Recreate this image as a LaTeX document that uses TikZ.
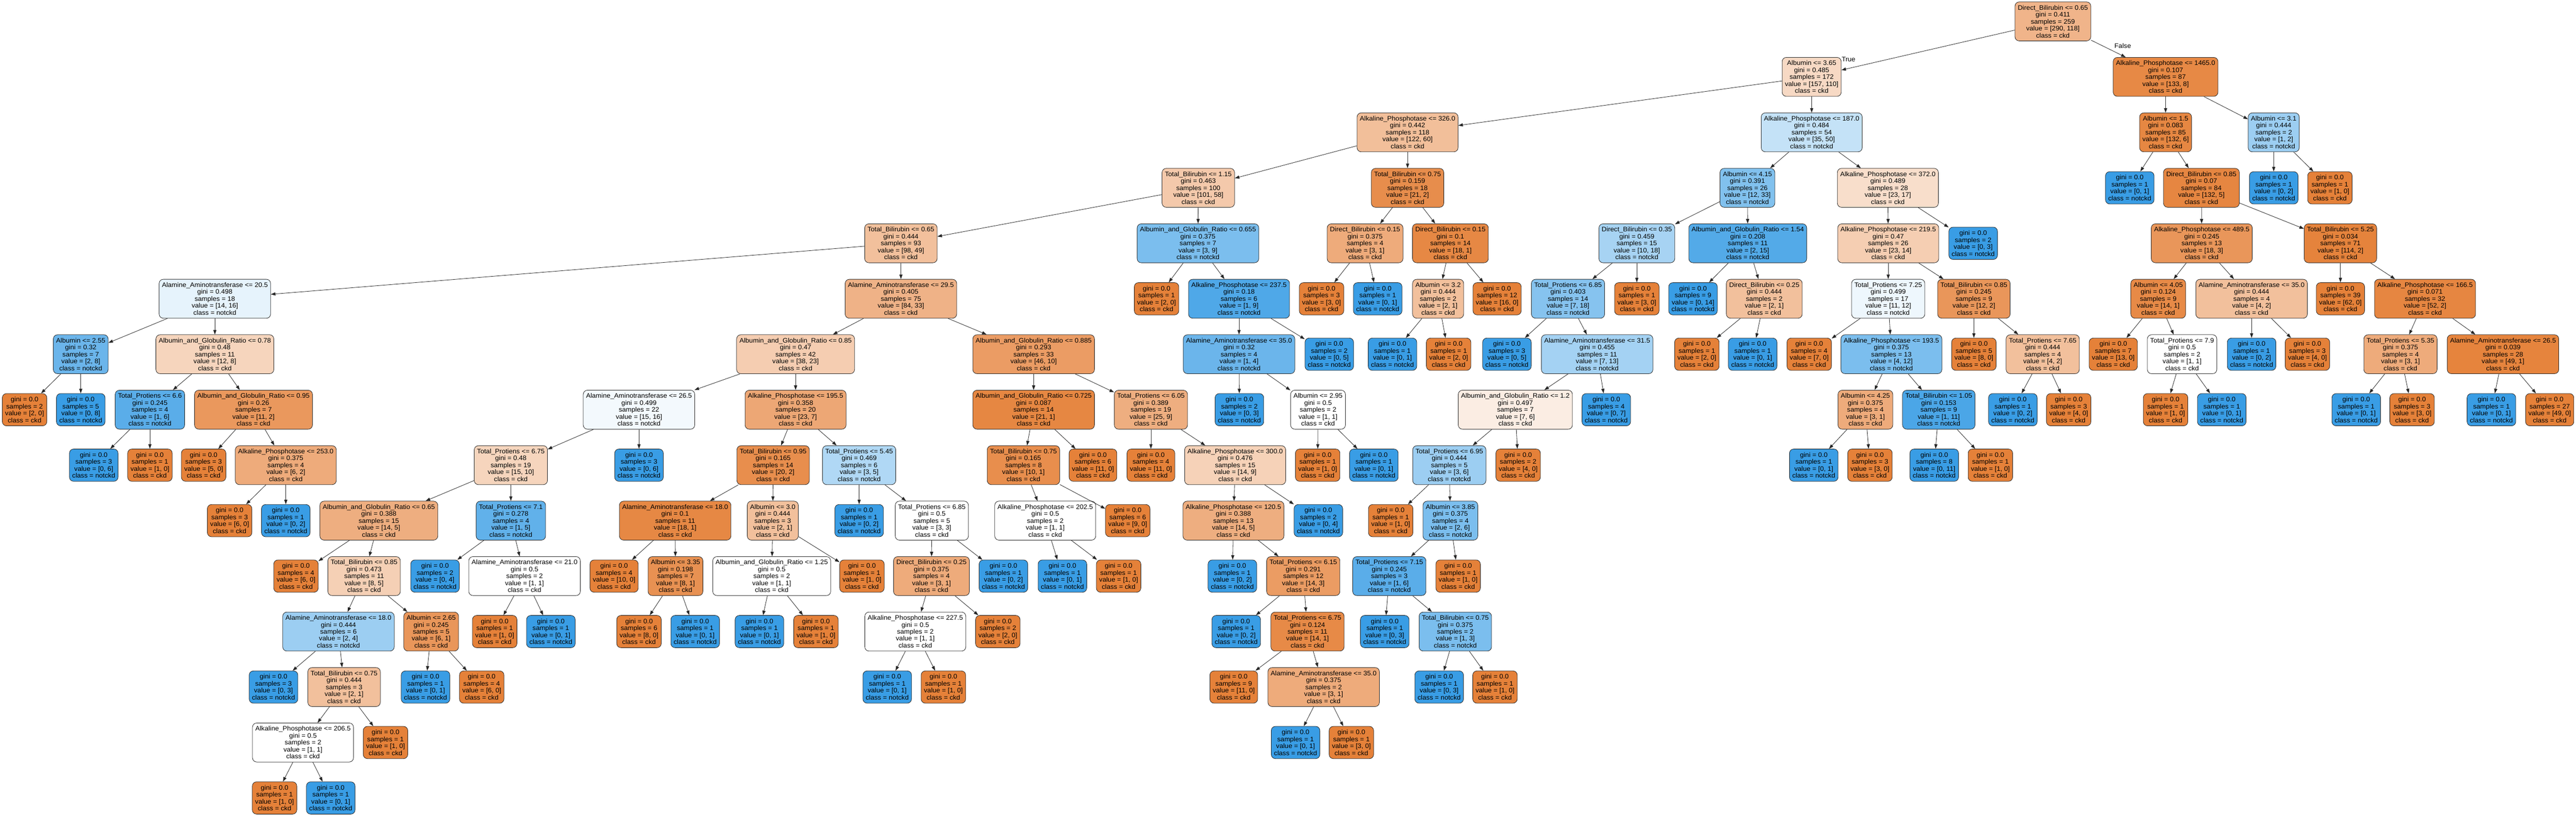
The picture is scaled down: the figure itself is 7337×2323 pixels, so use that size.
\documentclass[tikz,border=0pt]{standalone}
\usepackage{fontspec}
\setmainfont{Liberation Sans}[FakeStretch=1.04]
\usetikzlibrary{arrows.meta}
\definecolor{cckd}{RGB}{229,129,57}
\definecolor{cnot}{RGB}{57,157,229}
\tikzset{
  cls/.code 2 args={%
    \pgfmathsetmacro\va{#1}\pgfmathsetmacro\vb{#2}%
    \ifdim\va pt<\vb pt
      \pgfmathsetmacro\al{(\vb-\va)/\vb*100}\def\cc{cnot}%
    \else
      \pgfmathsetmacro\al{(\va-\vb)/\va*100}\def\cc{cckd}%
    \fi
    \edef\tmp{\noexpand\pgfkeysalso{fill=\cc!\al!white}}\tmp},
  nd/.style={draw=black!85, line width=1.2pt, rounded corners=12pt, align=center,
    inner xsep=8pt, inner ysep=0pt, font=\fontsize{18.5pt}{19.8pt}\selectfont},
  inode/.style={nd, minimum height=111pt},
  lnode/.style={nd, minimum height=92pt},
  edge/.style={draw=black!85, line width=1.2pt, -{Triangle[length=13pt,width=9pt]}},
  lbl/.style={font=\fontsize{18.5pt}{19.8pt}\selectfont, inner sep=0pt}
}
% name, x, level, split, gini, samples, a, b, class
\newcommand\IN[9]{\node[inode,cls={#7}{#8}] (#1) at (#2,{61+158*#3}) {#4\\gini = #5\\samples = #6\\value = [#7, #8]\\class = #9};}
% name, x, level, samples, a, b, class
\newcommand\LF[7]{\node[lnode,cls={#5}{#6}] (#1) at (#2,{61+158*#3}) {gini = 0.0\\samples = #4\\value = [#5, #6]\\class = #7};}
\begin{document}
\begin{tikzpicture}[x=1pt,y=-1pt]
\useasboundingbox[fill=white] (0,0) rectangle (7337,2323);
% level 0
\IN{r}{5847}{0}{Direct\_Bilirubin <= 0.65}{0.411}{259}{290}{118}{ckd}
% level 1
\IN{a}{5160}{1}{Albumin <= 3.65}{0.485}{172}{157}{110}{ckd}
\IN{b}{6168}{1}{Alkaline\_Phosphotase <= 1465.0}{0.107}{87}{133}{8}{ckd}
% level 2
\IN{aa}{4009}{2}{Alkaline\_Phosphotase <= 326.0}{0.442}{118}{122}{60}{ckd}
\IN{ab}{5160}{2}{Alkaline\_Phosphotase <= 187.0}{0.484}{54}{35}{50}{notckd}
\IN{ba}{6168}{2}{Albumin <= 1.5}{0.083}{85}{132}{6}{ckd}
\IN{bb}{6476}{2}{Albumin <= 3.1}{0.444}{2}{1}{2}{notckd}
% level 3
\IN{aaa}{3413}{3}{Total\_Bilirubin <= 1.15}{0.463}{100}{101}{58}{ckd}
\IN{aab}{4009}{3}{Total\_Bilirubin <= 0.75}{0.159}{18}{21}{2}{ckd}
\IN{aba}{4977}{3}{Albumin <= 4.15}{0.391}{26}{12}{33}{notckd}
\IN{abb}{5377}{3}{Alkaline\_Phosphotase <= 372.0}{0.489}{28}{23}{17}{ckd}
\LF{baa}{6066}{3}{1}{0}{1}{notckd}
\IN{bab}{6270}{3}{Direct\_Bilirubin <= 0.85}{0.07}{84}{132}{5}{ckd}
\LF{bba}{6476}{3}{1}{0}{2}{notckd}
\LF{bbb}{6636}{3}{1}{1}{0}{ckd}
% level 4
\IN{aaaa}{2566}{4}{Total\_Bilirubin <= 0.65}{0.444}{93}{98}{49}{ckd}
\IN{aaab}{3412}{4}{Albumin\_and\_Globulin\_Ratio <= 0.655}{0.375}{7}{3}{9}{notckd}
\IN{aaba}{3888}{4}{Direct\_Bilirubin <= 0.15}{0.375}{4}{3}{1}{ckd}
\IN{aabb}{4131}{4}{Direct\_Bilirubin <= 0.15}{0.1}{14}{18}{1}{ckd}
\IN{abaa}{4662}{4}{Direct\_Bilirubin <= 0.35}{0.459}{15}{10}{18}{notckd}
\IN{abab}{4978}{4}{Albumin\_and\_Globulin\_Ratio <= 1.54}{0.208}{11}{2}{15}{notckd}
\IN{abba}{5378}{4}{Alkaline\_Phosphotase <= 219.5}{0.47}{26}{23}{14}{ckd}
\LF{abbb}{5620}{4}{2}{0}{3}{notckd}
\IN{baba}{6271}{4}{Alkaline\_Phosphotase <= 489.5}{0.245}{13}{18}{3}{ckd}
\IN{babb}{6666}{4}{Total\_Bilirubin <= 5.25}{0.034}{71}{114}{2}{ckd}
% level 5
\IN{n5a}{612}{5}{Alamine\_Aminotransferase <= 20.5}{0.498}{18}{14}{16}{notckd}
\IN{n5b}{2566}{5}{Alamine\_Aminotransferase <= 29.5}{0.405}{75}{84}{33}{ckd}
\LF{n5c}{3294}{5}{1}{2}{0}{ckd}
\IN{n5d}{3529}{5}{Alkaline\_Phosphotase <= 237.5}{0.18}{6}{1}{9}{notckd}
\LF{n5e}{3764}{5}{3}{3}{0}{ckd}
\LF{n5f}{3924}{5}{1}{0}{1}{notckd}
\IN{n5g}{4096}{5}{Albumin <= 3.2}{0.444}{2}{2}{1}{ckd}
\LF{n5h}{4264}{5}{12}{16}{0}{ckd}
\IN{n5i}{4466}{5}{Total\_Protiens <= 6.85}{0.403}{14}{7}{18}{notckd}
\LF{n5j}{4662}{5}{1}{3}{0}{ckd}
\LF{n5k}{4822}{5}{9}{0}{14}{notckd}
\IN{n5l}{5025}{5}{Direct\_Bilirubin <= 0.25}{0.444}{2}{2}{1}{ckd}
\IN{n5m}{5378}{5}{Total\_Protiens <= 7.25}{0.499}{17}{11}{12}{notckd}
\IN{n5n}{5622}{5}{Total\_Bilirubin <= 0.85}{0.245}{9}{12}{2}{ckd}
\IN{n5o}{6147}{5}{Albumin <= 4.05}{0.124}{9}{14}{1}{ckd}
\IN{n5p}{6413}{5}{Alamine\_Aminotransferase <= 35.0}{0.444}{4}{4}{2}{ckd}
\LF{n5q}{6666}{5}{39}{62}{0}{ckd}
\IN{n5r}{6907}{5}{Alkaline\_Phosphotase <= 166.5}{0.071}{32}{52}{2}{ckd}
% level 6
\IN{n6a}{230}{6}{Albumin <= 2.55}{0.32}{7}{2}{8}{notckd}
\IN{n6b}{612}{6}{Albumin\_and\_Globulin\_Ratio <= 0.78}{0.48}{11}{12}{8}{ckd}
\IN{n6c}{2266}{6}{Albumin\_and\_Globulin\_Ratio <= 0.85}{0.47}{42}{38}{23}{ckd}
\IN{n6d}{2944}{6}{Albumin\_and\_Globulin\_Ratio <= 0.885}{0.293}{33}{46}{10}{ckd}
\IN{n6e}{3529}{6}{Alamine\_Aminotransferase <= 35.0}{0.32}{4}{1}{4}{notckd}
\LF{n6f}{3786}{6}{2}{0}{5}{notckd}
\LF{n6g}{3966}{6}{1}{0}{1}{notckd}
\LF{n6h}{4126}{6}{1}{2}{0}{ckd}
\LF{n6i}{4292}{6}{3}{0}{5}{notckd}
\IN{n6j}{4549}{6}{Alamine\_Aminotransferase <= 31.5}{0.455}{11}{7}{13}{notckd}
\LF{n6k}{4833}{6}{1}{2}{0}{ckd}
\LF{n6l}{4992}{6}{1}{0}{1}{notckd}
\LF{n6m}{5153}{6}{4}{7}{0}{ckd}
\IN{n6n}{5387}{6}{Alkaline\_Phosphotase <= 193.5}{0.375}{13}{4}{12}{notckd}
\LF{n6o}{5622}{6}{5}{8}{0}{ckd}
\IN{n6p}{5818}{6}{Total\_Protiens <= 7.65}{0.444}{4}{4}{2}{ckd}
\LF{n6q}{6019}{6}{7}{13}{0}{ckd}
\IN{n6r}{6215}{6}{Total\_Protiens <= 7.9}{0.5}{2}{1}{1}{ckd}
\LF{n6s}{6413}{6}{1}{0}{2}{notckd}
\LF{n6t}{6572}{6}{3}{4}{0}{ckd}
\IN{n6u}{6837}{6}{Total\_Protiens <= 5.35}{0.375}{4}{3}{1}{ckd}
\IN{n6v}{7129}{6}{Alamine\_Aminotransferase <= 26.5}{0.039}{28}{49}{1}{ckd}
% level 7
\LF{n7a}{70}{7}{2}{2}{0}{ckd}
\LF{n7b}{230}{7}{5}{0}{8}{notckd}
\IN{n7c}{427}{7}{Total\_Protiens <= 6.6}{0.245}{4}{1}{6}{notckd}
\IN{n7d}{722}{7}{Albumin\_and\_Globulin\_Ratio <= 0.95}{0.26}{7}{11}{2}{ckd}
\IN{n7e}{1820}{7}{Alamine\_Aminotransferase <= 26.5}{0.499}{22}{15}{16}{notckd}
\IN{n7f}{2266}{7}{Alkaline\_Phosphotase <= 195.5}{0.358}{20}{23}{7}{ckd}
\IN{n7g}{2944}{7}{Albumin\_and\_Globulin\_Ratio <= 0.725}{0.087}{14}{21}{1}{ckd}
\IN{n7h}{3278}{7}{Total\_Protiens <= 6.05}{0.389}{19}{25}{9}{ckd}
\LF{n7i}{3530}{7}{2}{0}{3}{notckd}
\IN{n7j}{3754}{7}{Albumin <= 2.95}{0.5}{2}{1}{1}{ckd}
\IN{n7k}{4316}{7}{Albumin\_and\_Globulin\_Ratio <= 1.2}{0.497}{7}{7}{6}{ckd}
\LF{n7l}{4575}{7}{4}{0}{7}{notckd}
\IN{n7m}{5313}{7}{Albumin <= 4.25}{0.375}{4}{3}{1}{ckd}
\IN{n7n}{5522}{7}{Total\_Bilirubin <= 1.05}{0.153}{9}{1}{11}{notckd}
\LF{n7o}{5733}{7}{1}{0}{2}{notckd}
\LF{n7p}{5892}{7}{3}{4}{0}{ckd}
\LF{n7q}{6168}{7}{1}{1}{0}{ckd}
\LF{n7r}{6328}{7}{1}{0}{1}{notckd}
\LF{n7s}{6711}{7}{1}{0}{1}{notckd}
\LF{n7t}{6870}{7}{3}{3}{0}{ckd}
\LF{n7u}{7096}{7}{1}{0}{1}{notckd}
\LF{n7v}{7262}{7}{27}{49}{0}{ckd}
% level 8
\LF{n8a}{267}{8}{3}{0}{6}{notckd}
\LF{n8b}{427}{8}{1}{1}{0}{ckd}
\LF{n8c}{580}{8}{3}{5}{0}{ckd}
\IN{n8d}{814}{8}{Alkaline\_Phosphotase <= 253.0}{0.375}{4}{6}{2}{ckd}
\IN{n8e}{1455}{8}{Total\_Protiens <= 6.75}{0.48}{19}{15}{10}{ckd}
\LF{n8f}{1820}{8}{3}{0}{6}{notckd}
\IN{n8g}{2202}{8}{Total\_Bilirubin <= 0.95}{0.165}{14}{20}{2}{ckd}
\IN{n8h}{2447}{8}{Total\_Protiens <= 5.45}{0.469}{6}{3}{5}{notckd}
\IN{n8i}{2915}{8}{Total\_Bilirubin <= 0.75}{0.165}{8}{10}{1}{ckd}
\LF{n8j}{3113}{8}{6}{11}{0}{ckd}
\LF{n8k}{3278}{8}{4}{11}{0}{ckd}
\IN{n8l}{3518}{8}{Alkaline\_Phosphotase <= 300.0}{0.476}{15}{14}{9}{ckd}
\LF{n8m}{3753}{8}{1}{1}{0}{ckd}
\LF{n8n}{3913}{8}{1}{0}{1}{notckd}
\IN{n8o}{4128}{8}{Total\_Protiens <= 6.95}{0.444}{5}{3}{6}{notckd}
\LF{n8p}{4324}{8}{2}{4}{0}{ckd}
\LF{n8q}{5166}{8}{1}{0}{1}{notckd}
\LF{n8r}{5326}{8}{3}{3}{0}{ckd}
\LF{n8s}{5509}{8}{8}{0}{11}{notckd}
\LF{n8t}{5669}{8}{1}{1}{0}{ckd}
% level 9
\LF{n9a}{654}{9}{3}{6}{0}{ckd}
\LF{n9b}{814}{9}{1}{0}{2}{notckd}
\IN{n9c}{1079}{9}{Albumin\_and\_Globulin\_Ratio <= 0.65}{0.388}{15}{14}{5}{ckd}
\IN{n9d}{1455}{9}{Total\_Protiens <= 7.1}{0.278}{4}{1}{5}{notckd}
\IN{n9e}{1923}{9}{Alamine\_Aminotransferase <= 18.0}{0.1}{11}{18}{1}{ckd}
\IN{n9f}{2201}{9}{Albumin <= 3.0}{0.444}{3}{2}{1}{ckd}
\LF{n9g}{2447}{9}{1}{0}{2}{notckd}
\IN{n9h}{2654}{9}{Total\_Protiens <= 6.85}{0.5}{5}{3}{3}{ckd}
\IN{n9i}{2977}{9}{Alkaline\_Phosphotase <= 202.5}{0.5}{2}{1}{1}{ckd}
\LF{n9j}{3212}{9}{6}{9}{0}{ckd}
\IN{n9k}{3513}{9}{Alkaline\_Phosphotase <= 120.5}{0.388}{13}{14}{5}{ckd}
\LF{n9l}{3755}{9}{2}{0}{4}{notckd}
\LF{n9m}{3961}{9}{1}{1}{0}{ckd}
\IN{n9n}{4131}{9}{Albumin <= 3.85}{0.375}{4}{2}{6}{notckd}
% level 10
\LF{n10a}{843}{10}{4}{6}{0}{ckd}
\IN{n10b}{1037}{10}{Total\_Bilirubin <= 0.85}{0.473}{11}{8}{5}{ckd}
\LF{n10c}{1239}{10}{2}{0}{4}{notckd}
\IN{n10d}{1494}{10}{Alamine\_Aminotransferase <= 21.0}{0.5}{2}{1}{1}{ckd}
\LF{n10e}{1749}{10}{4}{10}{0}{ckd}
\IN{n10f}{1924}{10}{Albumin <= 3.35}{0.198}{7}{8}{1}{ckd}
\IN{n10g}{2198}{10}{Albumin\_and\_Globulin\_Ratio <= 1.25}{0.5}{2}{1}{1}{ckd}
\LF{n10h}{2455}{10}{1}{1}{0}{ckd}
\IN{n10i}{2653}{10}{Direct\_Bilirubin <= 0.25}{0.375}{4}{3}{1}{ckd}
\LF{n10j}{2858}{10}{1}{0}{2}{notckd}
\LF{n10k}{3026}{10}{1}{0}{1}{notckd}
\LF{n10l}{3186}{10}{1}{1}{0}{ckd}
\LF{n10m}{3510}{10}{1}{0}{2}{notckd}
\IN{n10n}{3712}{10}{Total\_Protiens <= 6.15}{0.291}{12}{14}{3}{ckd}
\IN{n10o}{3957}{10}{Total\_Protiens <= 7.15}{0.245}{3}{1}{6}{notckd}
\LF{n10p}{4153}{10}{1}{1}{0}{ckd}
% level 11
\IN{n11a}{964}{11}{Alamine\_Aminotransferase <= 18.0}{0.444}{6}{2}{4}{notckd}
\IN{n11b}{1228}{11}{Albumin <= 2.65}{0.245}{5}{6}{1}{ckd}
\LF{n11c}{1409}{11}{1}{1}{0}{ckd}
\LF{n11d}{1569}{11}{1}{0}{1}{notckd}
\LF{n11e}{1820}{11}{6}{8}{0}{ckd}
\LF{n11f}{1980}{11}{1}{0}{1}{notckd}
\LF{n11g}{2163}{11}{1}{0}{1}{notckd}
\LF{n11h}{2324}{11}{1}{1}{0}{ckd}
\IN{n11i}{2607}{11}{Alkaline\_Phosphotase <= 227.5}{0.5}{2}{1}{1}{ckd}
\LF{n11j}{2842}{11}{2}{2}{0}{ckd}
\LF{n11k}{3521}{11}{1}{0}{2}{notckd}
\IN{n11l}{3724}{11}{Total\_Protiens <= 6.75}{0.124}{11}{14}{1}{ckd}
\LF{n11m}{3944}{11}{1}{0}{3}{notckd}
\IN{n11n}{4145}{11}{Total\_Bilirubin <= 0.75}{0.375}{2}{1}{3}{notckd}
% level 12
\LF{n12a}{779}{12}{3}{0}{3}{notckd}
\IN{n12b}{980}{12}{Total\_Bilirubin <= 0.75}{0.444}{3}{2}{1}{ckd}
\LF{n12c}{1212}{12}{1}{0}{1}{notckd}
\LF{n12d}{1372}{12}{4}{6}{0}{ckd}
\LF{n12e}{2527}{12}{1}{0}{1}{notckd}
\LF{n12f}{2687}{12}{1}{1}{0}{ckd}
\LF{n12g}{3514}{12}{9}{11}{0}{ckd}
\IN{n12h}{3770}{12}{Alamine\_Aminotransferase <= 35.0}{0.375}{2}{3}{1}{ckd}
\LF{n12i}{4099}{12}{1}{0}{3}{notckd}
\LF{n12j}{4258}{12}{1}{1}{0}{ckd}
% level 13
\IN{n13a}{863}{13}{Alkaline\_Phosphotase <= 206.5}{0.5}{2}{1}{1}{ckd}
\LF{n13b}{1098}{13}{1}{1}{0}{ckd}
\LF{n13c}{3690}{13}{1}{0}{1}{notckd}
\LF{n13d}{3849}{13}{1}{3}{0}{ckd}
% level 14
\LF{n14a}{782}{14}{1}{1}{0}{ckd}
\LF{n14b}{942}{14}{1}{0}{1}{notckd}
% edges
\foreach \p/\c in {r/a,r/b,a/aa,a/ab,b/ba,b/bb,
  aa/aaa,aa/aab,ab/aba,ab/abb,ba/baa,ba/bab,bb/bba,bb/bbb,
  aaa/aaaa,aaa/aaab,aab/aaba,aab/aabb,aba/abaa,aba/abab,abb/abba,abb/abbb,bab/baba,bab/babb,
  aaaa/n5a,aaaa/n5b,aaab/n5c,aaab/n5d,aaba/n5e,aaba/n5f,aabb/n5g,aabb/n5h,abaa/n5i,abaa/n5j,
  abab/n5k,abab/n5l,abba/n5m,abba/n5n,baba/n5o,baba/n5p,babb/n5q,babb/n5r,
  n5a/n6a,n5a/n6b,n5b/n6c,n5b/n6d,n5d/n6e,n5d/n6f,n5g/n6g,n5g/n6h,n5i/n6i,n5i/n6j,
  n5l/n6k,n5l/n6l,n5m/n6m,n5m/n6n,n5n/n6o,n5n/n6p,n5o/n6q,n5o/n6r,n5p/n6s,n5p/n6t,n5r/n6u,n5r/n6v,
  n6a/n7a,n6a/n7b,n6b/n7c,n6b/n7d,n6c/n7e,n6c/n7f,n6d/n7g,n6d/n7h,n6e/n7i,n6e/n7j,
  n6j/n7k,n6j/n7l,n6n/n7m,n6n/n7n,n6p/n7o,n6p/n7p,n6r/n7q,n6r/n7r,n6u/n7s,n6u/n7t,n6v/n7u,n6v/n7v,
  n7c/n8a,n7c/n8b,n7d/n8c,n7d/n8d,n7e/n8e,n7e/n8f,n7f/n8g,n7f/n8h,n7g/n8i,n7g/n8j,n7h/n8k,n7h/n8l,
  n7j/n8m,n7j/n8n,n7k/n8o,n7k/n8p,n7m/n8q,n7m/n8r,n7n/n8s,n7n/n8t,
  n8d/n9a,n8d/n9b,n8e/n9c,n8e/n9d,n8g/n9e,n8g/n9f,n8h/n9g,n8h/n9h,n8i/n9i,n8i/n9j,n8l/n9k,n8l/n9l,
  n8o/n9m,n8o/n9n,
  n9c/n10a,n9c/n10b,n9d/n10c,n9d/n10d,n9e/n10e,n9e/n10f,n9f/n10g,n9f/n10h,n9h/n10i,n9h/n10j,
  n9i/n10k,n9i/n10l,n9k/n10m,n9k/n10n,n9n/n10o,n9n/n10p,
  n10b/n11a,n10b/n11b,n10d/n11c,n10d/n11d,n10f/n11e,n10f/n11f,n10g/n11g,n10g/n11h,n10i/n11i,n10i/n11j,
  n10n/n11k,n10n/n11l,n10o/n11m,n10o/n11n,
  n11a/n12a,n11a/n12b,n11b/n12c,n11b/n12d,n11i/n12e,n11i/n12f,n11l/n12g,n11l/n12h,n11n/n12i,n11n/n12j,
  n12b/n13a,n12b/n13b,n12h/n13c,n12h/n13d,
  n13a/n14a,n13a/n14b}
  \draw[edge] (\p) -- (\c);
\node[lbl] (tlab) at (5265,169) {True};
\node[lbl] (flab) at (6046,130) {False};
\end{tikzpicture}
\end{document}
